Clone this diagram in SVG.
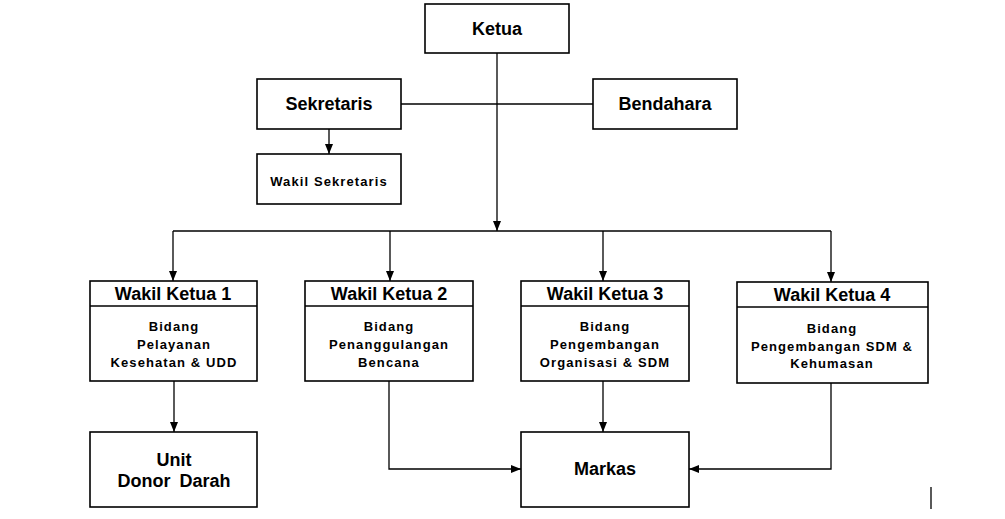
<svg xmlns="http://www.w3.org/2000/svg" width="1005" height="519" viewBox="0 0 1005 519">
<style>
.box{fill:#fff;stroke:#000;stroke-width:1.6}
.ln{fill:none;stroke:#000;stroke-width:1.3}
.t{font-family:"Liberation Sans",Arial,sans-serif;font-weight:bold;fill:#000;text-anchor:middle}
.big{font-size:18px}
.sm{font-size:13px;letter-spacing:1.1px}
</style>
<defs>
<marker id="ah" viewBox="0 0 10 8" refX="10" refY="4" markerWidth="10" markerHeight="8" markerUnits="userSpaceOnUse" orient="auto">
<path d="M0,0 L10,4 L0,8 Z" fill="#000"/>
</marker>
</defs>
<rect width="1005" height="519" fill="#fff"/>
<g id="connectors">
<line class="ln" x1="401" y1="104" x2="593" y2="104"/>
<line class="ln" x1="497" y1="53" x2="497" y2="231" marker-end="url(#ah)"/>
<line class="ln" x1="329" y1="129" x2="329" y2="154" marker-end="url(#ah)"/>
<line class="ln" x1="173" y1="231" x2="831" y2="231"/>
<line class="ln" x1="173" y1="231" x2="173" y2="281" marker-end="url(#ah)"/>
<line class="ln" x1="390" y1="231" x2="390" y2="281" marker-end="url(#ah)"/>
<line class="ln" x1="603" y1="231" x2="603" y2="281" marker-end="url(#ah)"/>
<line class="ln" x1="831" y1="231" x2="831" y2="282" marker-end="url(#ah)"/>
<line class="ln" x1="174" y1="381" x2="174" y2="432" marker-end="url(#ah)"/>
<polyline class="ln" points="389,381 389,469 521,469" marker-end="url(#ah)"/>
<line class="ln" x1="603" y1="381" x2="603" y2="432" marker-end="url(#ah)"/>
<polyline class="ln" points="831,383 831,469 689,469" marker-end="url(#ah)"/>
<line class="ln" x1="931" y1="487" x2="931" y2="509"/>
</g>
<g id="ketua">
<rect class="box" x="425" y="4" width="144" height="49"/>
<text class="t big" x="497" y="35">Ketua</text>
</g>
<g id="sekretaris">
<rect class="box" x="257" y="79" width="144" height="50"/>
<text class="t big" x="329" y="110">Sekretaris</text>
</g>
<g id="bendahara">
<rect class="box" x="593" y="79" width="144" height="50"/>
<text class="t big" x="665" y="110">Bendahara</text>
</g>
<g id="wakil-sekretaris">
<rect class="box" x="257" y="154" width="144" height="50"/>
<text class="t sm" x="329" y="186">Wakil Sekretaris</text>
</g>
<g id="wakil-ketua-1">
<rect class="box" x="90" y="281" width="167" height="100"/>
<line class="ln" x1="90" y1="306" x2="257" y2="306"/>
<text class="t big" x="173" y="300">Wakil Ketua 1</text>
<text class="t sm" x="174" y="331">Bidang</text>
<text class="t sm" x="174" y="349">Pelayanan</text>
<text class="t sm" x="174" y="367">Kesehatan &amp; UDD</text>
</g>
<g id="wakil-ketua-2">
<rect class="box" x="305" y="281" width="168" height="100"/>
<line class="ln" x1="305" y1="306" x2="473" y2="306"/>
<text class="t big" x="389" y="300">Wakil Ketua 2</text>
<text class="t sm" x="389" y="331">Bidang</text>
<text class="t sm" x="389" y="349">Penanggulangan</text>
<text class="t sm" x="389" y="367">Bencana</text>
</g>
<g id="wakil-ketua-3">
<rect class="box" x="521" y="281" width="168" height="100"/>
<line class="ln" x1="521" y1="306" x2="689" y2="306"/>
<text class="t big" x="605" y="300">Wakil Ketua 3</text>
<text class="t sm" x="605" y="331">Bidang</text>
<text class="t sm" x="605" y="349">Pengembangan</text>
<text class="t sm" x="605" y="367">Organisasi &amp; SDM</text>
</g>
<g id="wakil-ketua-4">
<rect class="box" x="737" y="282" width="191" height="101"/>
<line class="ln" x1="737" y1="307" x2="928" y2="307"/>
<text class="t big" x="832" y="301">Wakil Ketua 4</text>
<text class="t sm" x="832" y="333">Bidang</text>
<text class="t sm" x="832" y="351">Pengembangan SDM &amp;</text>
<text class="t sm" x="832" y="368">Kehumasan</text>
</g>
<g id="unit-donor-darah">
<rect class="box" x="90" y="432" width="167" height="75"/>
<text class="t big" x="174" y="466">Unit</text>
<text class="t big" x="174" y="487" word-spacing="4">Donor Darah</text>
</g>
<g id="markas">
<rect class="box" x="521" y="432" width="168" height="75"/>
<text class="t big" x="605" y="475">Markas</text>
</g>
</svg>
